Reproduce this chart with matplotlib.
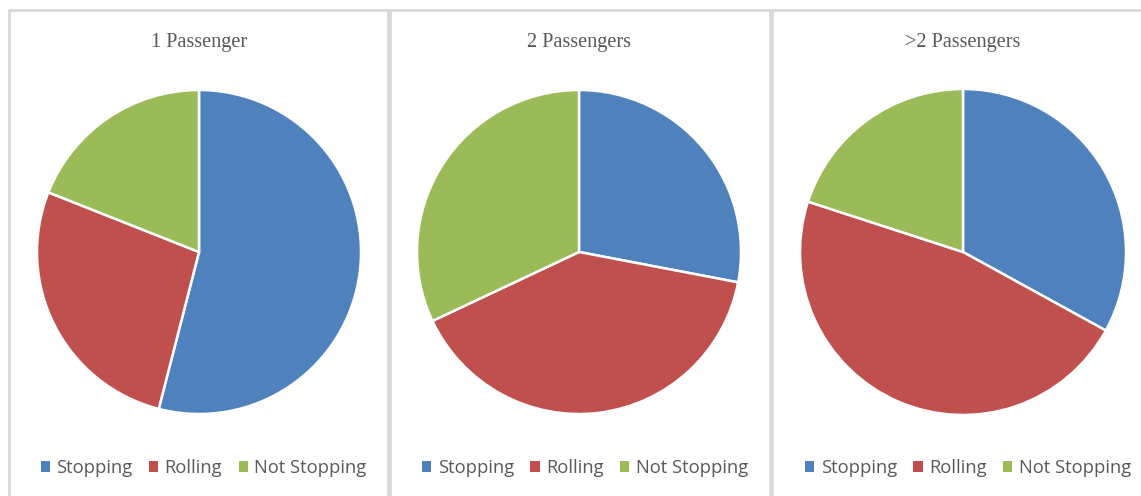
import matplotlib
matplotlib.use("Agg")
import matplotlib.pyplot as plt
from matplotlib.patches import Rectangle, Patch

titles = ["1 Passenger", "2 Passengers", ">2 Passengers"]
categories = ["Stopping", "Rolling", "Not Stopping"]
stopping = [54, 28, 33]
rolling = [27, 40, 47]
not_stopping = [19, 32, 20]
colors = ["#4F81BD", "#C0504D", "#9BBB59"]

W, H = 1141, 496
fig = plt.figure(figsize=(W / 100, H / 100), dpi=100)
fig.patch.set_facecolor("white")

# panel boxes (pixels): left, right
panels = [(9, 388), (390, 770), (772, 1160)]
centers = [(199, 252, 162), (579, 252, 162), (963, 252, 163)]
border = "#D9D9D9"

for (l, r) in panels:
    fig.patches.append(Rectangle((l / W, -0.1), (r - l) / W, 1.1 - 10 / H,
                                 transform=fig.transFigure, fill=False,
                                 edgecolor=border, linewidth=2.0, zorder=0))

for i, title in enumerate(titles):
    cx, cy, rad = centers[i]
    ax = fig.add_axes([(cx - rad) / W, 1 - (cy + rad) / H, 2 * rad / W, 2 * rad / H])
    vals = [stopping[i], rolling[i], not_stopping[i]]
    ax.pie(vals, colors=colors, startangle=90, counterclock=False,
           radius=1.0, wedgeprops=dict(edgecolor="white", linewidth=1.8))
    ax.set_xlim(-1.0, 1.0)
    ax.set_ylim(-1.0, 1.0)
    ax.set_aspect("equal")
    ax.axis("off")
    fig.text(cx / W, 1 - 43 / H, title, ha="center", va="center",
             family="Liberation Serif", fontsize=14.6, color="#595959")
    handles = [Patch(facecolor=c, edgecolor="none") for c in colors]
    lx = (panels[i][0] + panels[i][1]) / 2 + 5 if i < 2 else 968
    fig.legend(handles, categories, loc="center", bbox_to_anchor=(lx / W, 1 - 468 / H),
               ncol=3, frameon=False, handlelength=0.5, handleheight=0.5,
               handletextpad=0.35, columnspacing=0.9,
               prop=dict(family="Open Sans", size=13.2), labelcolor="#595959")

fig.savefig("out.png", dpi=100, facecolor="white")
